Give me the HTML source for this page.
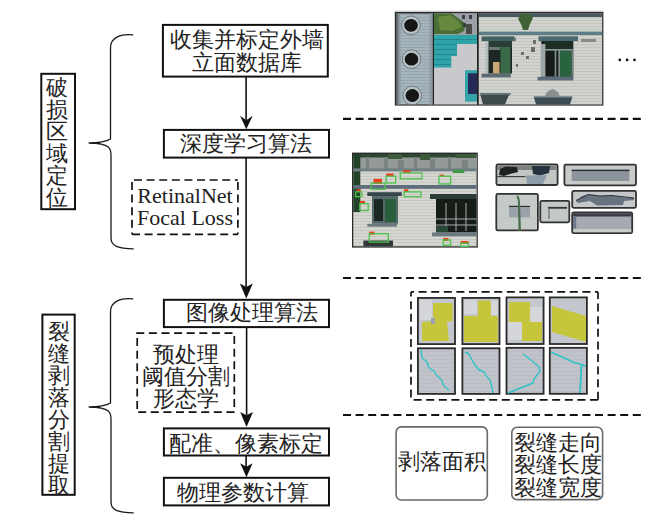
<!DOCTYPE html>
<html><head><meta charset="utf-8">
<style>
html,body{margin:0;padding:0;background:#fff;}
body{width:670px;height:521px;position:relative;overflow:hidden;font-family:"Liberation Serif",serif;color:#222;}
.t{position:absolute;white-space:nowrap;font-size:21.5px;line-height:21.5px;font-weight:300;}
.c{text-align:center;}
.ab{position:absolute;}
.ph{position:absolute;overflow:hidden;box-sizing:border-box;}
</style></head><body>

<svg class="ab" style="left:0;top:0" width="670" height="521" viewBox="0 0 670 521">
 <g fill="none" stroke="#111" stroke-width="2">
  <rect x="162.9" y="24.9" width="164.9" height="51.7"/>
  <rect x="163.9" y="129.9" width="165.1" height="27.7"/>
  <rect x="163.9" y="299.8" width="165.1" height="27.3"/>
  <rect x="163.9" y="428.4" width="165.1" height="27.1"/>
  <rect x="163.9" y="477.8" width="165.1" height="27.6"/>
  <rect x="41.3" y="73.8" width="33.7" height="135.4"/>
  <rect x="42.4" y="314.6" width="32.3" height="180.2"/>
 </g>
 <g fill="none" stroke="#111" stroke-width="1.6">
  <line x1="246.1" y1="77" x2="246.1" y2="120"/>
  <line x1="246.1" y1="158" x2="246.1" y2="287"/>
  <line x1="246.6" y1="327.5" x2="246.6" y2="415"/>
  <line x1="246.1" y1="456" x2="246.1" y2="467"/>
 </g>
 <g fill="#111">
  <path d="M246.3 129.2 L240.1 115.8 L246.3 120.2 L252.7 115.8 Z"/>
  <path d="M246.3 298.6 L239.9 283.4 L246.3 287 L252.8 283.4 Z"/>
  <path d="M246.5 426.9 L240.2 411.9 L246.5 415.3 L253 411.9 Z"/>
  <path d="M246.5 477.2 L240.2 463.3 L246.5 466.8 L252.6 463.3 Z"/>
 </g>
 <!-- braces -->
 <g fill="none" stroke="#1a1a1a" stroke-width="1.3">
  <path d="M133.2 34.9 C122 33.4 110.5 36.8 110.5 48 L110.5 139 C106 141.6 97 142.8 88.7 143 C98 143.2 104.5 144 108.3 147 C110.6 149 111 151 111 155 L111 238 C111 246 118 248.8 133.7 248.8"/>
  <path d="M133.2 298.9 C122 297.4 110.5 300.8 110.5 312 L110.5 403 C106 405.6 97 406.8 88.7 407 C98 407.2 104.5 408 108.3 411 C110.6 413 111 415 111 419 L111 502 C111 510 118 512.8 133.7 512.8"/>
 </g>
 <g fill="#1a1a1a"><path d="M88.5 143 C93 142.4 97 142.1 100 141.9 L100 144.1 C97 143.9 93 143.6 88.5 143Z"/><path d="M88.5 407 C93 406.4 97 406.1 100 405.9 L100 408.1 C97 407.9 93 407.6 88.5 407Z"/></g>
 <!-- dashed boxes -->
 <g fill="none" stroke="#111" stroke-width="1.7" stroke-dasharray="8 4.6">
  <line x1="132" y1="180" x2="237.9" y2="180" stroke-dashoffset="-2"/>
  <line x1="132" y1="180" x2="132" y2="234.3" stroke-dashoffset="-2"/>
  <line x1="132" y1="234.3" x2="237.9" y2="234.3" stroke-dashoffset="0"/>
  <line x1="237.9" y1="180" x2="237.9" y2="234.3" stroke-dashoffset="-2"/>
  <line x1="136.3" y1="333.1" x2="234.3" y2="333.1" stroke-dashoffset="0"/>
  <line x1="137.2" y1="333.1" x2="137.2" y2="412.2" stroke-dashoffset="-5"/>
  <line x1="137.2" y1="412.2" x2="234.3" y2="412.2" stroke-dashoffset="-1"/>
  <line x1="234.3" y1="333.1" x2="234.3" y2="412.2" stroke-dashoffset="-3"/>
  <line x1="411" y1="291.9" x2="598" y2="291.9" stroke-dashoffset="5"/>
  <line x1="411" y1="291.9" x2="411" y2="399.8" stroke-dashoffset="3.3"/>
  <line x1="598" y1="399.8" x2="411" y2="399.8" stroke-dashoffset="0"/>
  <line x1="598" y1="399.8" x2="598" y2="291.9" stroke-dashoffset="0"/>
 </g>
 <g fill="none" stroke="#111" stroke-width="2.2" stroke-dasharray="8 4.6">
  <line x1="343" y1="118.8" x2="642" y2="118.8"/>
  <line x1="343" y1="278" x2="642" y2="278"/>
  <line x1="343" y1="415" x2="642" y2="415"/>
 </g>
 <g fill="none" stroke="#6a6a6a" stroke-width="1.6">
  <rect x="396.1" y="426.9" width="91.2" height="73.1" rx="5.2"/>
  <rect x="511.8" y="427.3" width="90.8" height="72.3" rx="5.2"/>
 </g>
 <g fill="#111"><circle cx="619.8" cy="59.9" r="1.35"/><circle cx="627.1" cy="59.9" r="1.35"/><circle cx="634.5" cy="59.9" r="1.35"/></g>
</svg>


<!-- photos -->
<svg class="ab" style="left:0;top:0" width="670" height="521" viewBox="0 0 670 521">
 <defs>
  <filter id="soft" x="-2%" y="-2%" width="104%" height="104%"><feGaussianBlur stdDeviation="0.45"/></filter>
  <pattern id="brick" width="6" height="3" patternUnits="userSpaceOnUse"><rect width="6" height="3" fill="#d2d3cf"/><rect y="2.3" width="6" height="0.7" fill="#bdbfbc"/></pattern>
  <pattern id="brick2" width="6" height="3" patternUnits="userSpaceOnUse"><rect width="6" height="3" fill="#d6d6d0"/><rect y="2.3" width="6" height="0.7" fill="#c2c2bc"/></pattern>
  <pattern id="blu" width="5" height="3" patternUnits="userSpaceOnUse"><rect width="5" height="3" fill="#a6b5bb"/><rect y="2" width="5" height="1" fill="#97a6ad"/></pattern>
  <pattern id="tl" width="5" height="5" patternUnits="userSpaceOnUse"><rect width="5" height="5" fill="#2fa3a8"/><rect y="4.2" width="5" height="0.8" fill="#1f8088"/></pattern>
  <pattern id="gw" width="4" height="4" patternUnits="userSpaceOnUse"><rect width="4" height="4" fill="#cbcacd"/><path d="M0 4 L4 0" stroke="#bdbcc1" stroke-width="0.5"/></pattern>
  <pattern id="cg" width="6" height="4" patternUnits="userSpaceOnUse"><rect width="6" height="4" fill="#c0c3ca"/><rect y="3.4" width="6" height="0.6" fill="#b6b9c0"/></pattern>
 </defs>
 <g filter="url(#soft)">
 <!-- top strip -->
 <rect x="394.5" y="10.4" width="209" height="1" fill="#e4e4e4"/>
 <rect x="394.8" y="11.8" width="208.6" height="93.8" fill="#2b2b2b"/>
 <!-- panel 1 -->
 <rect x="396" y="13.5" width="37" height="91" fill="url(#blu)"/>
 <rect x="396" y="13.5" width="2.5" height="91" fill="#5d686d"/><rect x="398.5" y="13.5" width="2" height="91" fill="#8a979c"/>
 <rect x="429.5" y="13.5" width="3.5" height="91" fill="#8d9aa0"/>
 <g fill="#b9c4c8" stroke="#66717a" stroke-width="0.9">
  <circle cx="411" cy="25.3" r="9.3"/><circle cx="411.5" cy="59.2" r="9.3"/><circle cx="412.3" cy="95.5" r="9.3"/>
 </g>
 <g fill="#141414"><ellipse cx="411" cy="25.3" rx="6.8" ry="6.4"/><ellipse cx="411.5" cy="59.2" rx="6.8" ry="6.4"/><ellipse cx="412.3" cy="95.5" rx="6.8" ry="6.4"/></g>
 <!-- panel 2 -->
 <rect x="434" y="13.5" width="43" height="91" fill="url(#gw)"/>
 <rect x="434" y="13.5" width="43" height="22" fill="#9ba0a6"/>
 <path d="M434 13.5 L452 13.5 L458 18 L466 24 L464 31 L458 34 L434 34 Z" fill="#4a6e34"/>
 <path d="M438 17 L450 15 L458 21 L462 27 L452 31 L440 30 Z" fill="#66893f"/>
 <g fill="#3b3f44"><rect x="462" y="15" width="3" height="4"/><rect x="469" y="15" width="3" height="4"/><rect x="463" y="23" width="3" height="4"/></g>
 <rect x="466" y="24" width="6" height="10" fill="#4a4a44"/>
 <path d="M434 35 L477 35 L477 44 L457 44 L457 56 L451.3 56 L451.3 67.5 L434 67.5 Z" fill="url(#tl)"/>
 <rect x="465" y="70.2" width="12" height="31.5" fill="#30a4a8"/>
 <rect x="468" y="73.3" width="9" height="20.7" fill="#262a58"/>
 <!-- panel 3 -->
 <rect x="478.5" y="13.5" width="123.7" height="91" fill="url(#brick)"/>
 <rect x="478.5" y="13.5" width="123.7" height="3.5" fill="#4a5a5e"/>
 <path d="M521 14 L530 13.5 L533 18 L530 24 L528 30 L523 30 L521 24 L518 19Z" fill="#3f6334"/>
 <rect x="478.5" y="31.6" width="123.7" height="3.5" fill="#5e7d86"/>
 <rect x="481.6" y="36.4" width="33" height="4.8" fill="#42605f"/>
 <rect x="488" y="41" width="24" height="32.5" fill="#1f2622"/>
 <rect x="488" y="41" width="24" height="7" fill="#2c3c36"/>
 <rect x="500.5" y="47" width="10" height="26.5" fill="#3a6a4a"/>
 <rect x="493" y="62" width="6.5" height="11.5" fill="#c9a878"/>
 <rect x="485.5" y="41" width="3" height="32.5" fill="#b4bcbc"/>
 <rect x="489" y="47" width="11" height="3" fill="#6a7a78"/>
 <rect x="481.6" y="73.6" width="29.2" height="3.8" fill="#5c6c72"/>
 <path d="M479.8 93.5 L510.8 93.5 L508 97 L505 104.5 L483 104.5 L481 97Z" fill="#3c4c4c"/><rect x="479.8" y="93.2" width="31" height="1.6" fill="#63777c"/>
 <rect x="538.5" y="36.3" width="39.5" height="4.8" fill="#4a6a70"/>
 <rect x="541.3" y="41" width="32" height="35.8" fill="#181f1b"/>
 <rect x="544" y="41" width="29" height="8" fill="#1f2e28"/>
 <rect x="540.7" y="44" width="4.7" height="32.8" fill="#9ea6a6"/>
 <rect x="560" y="50.5" width="11.5" height="26.3" fill="#2b6440"/>
 <rect x="545" y="49" width="28" height="1.6" fill="#8a9a98"/>
 <rect x="554.7" y="50" width="1.6" height="26.8" fill="#7f908e"/>
 <rect x="558.4" y="50" width="1.6" height="26.8" fill="#7f908e"/>
 <rect x="571.5" y="49" width="1.6" height="27.8" fill="#6f807e"/>
 <rect x="537.5" y="76.8" width="35.8" height="3.7" fill="#5c6c7a"/>
 <path d="M533.8 97 L572.3 97 L570 104.5 L536 104.5Z" fill="#3c4c52"/><rect x="533.8" y="96.3" width="38.5" height="1.5" fill="#63777c"/>
 <path d="M544 97 L548 91 L553 89 L558 92 L560 97Z" fill="#8a8e8c"/>
 <rect x="581" y="39" width="15" height="3" fill="#8a8a8a"/>
 <g fill="#6a6e6c"><rect x="513" y="38" width="3" height="3"/><rect x="521" y="52" width="3" height="3"/><rect x="526" y="56" width="3" height="3"/><rect x="531" y="47" width="4" height="5"/><rect x="533" y="40" width="3" height="4"/><rect x="516" y="64" width="2" height="3"/></g>
 <rect x="477.3" y="13.5" width="1.2" height="91" fill="#222"/>
 <rect x="432.8" y="13.5" width="1.2" height="91" fill="#222"/>

 <!-- photo 2 -->
 <rect x="352" y="152.6" width="125.8" height="95" fill="#2a2a2a"/>
 <rect x="353.3" y="154" width="123.3" height="92.3" fill="url(#brick2)"/>
 <rect x="353.3" y="154" width="123.3" height="15.5" fill="#939a99"/>
 <rect x="353.3" y="154" width="123.3" height="3.5" fill="#2f4a32"/>
 <g fill="#7a8282"><rect x="366" y="157" width="3" height="12"/><rect x="384" y="157" width="4" height="12"/><rect x="398" y="160" width="6" height="9"/><rect x="414" y="157" width="3" height="12"/><rect x="430" y="159" width="5" height="10"/><rect x="448" y="157" width="3" height="12"/><rect x="462" y="160" width="6" height="9"/></g>
 <g fill="#3d5a3e"><rect x="388" y="154" width="14" height="5"/><rect x="420" y="154" width="10" height="6"/><rect x="456" y="154" width="20" height="4"/></g>
 <rect x="353.3" y="154" width="7" height="58" fill="#24422a"/>
 <rect x="353.3" y="168.4" width="123.3" height="3" fill="#6e7e84"/>
 <rect x="353.3" y="185" width="123.3" height="3.8" fill="#5e6e7c"/>
 <rect x="367.3" y="192.2" width="34.5" height="3.8" fill="#35454a"/>
 <rect x="372" y="196" width="26" height="27.8" fill="#55686a"/>
 <rect x="374" y="199" width="9" height="22" fill="#1e2622"/>
 <rect x="385" y="199" width="11" height="23" fill="#2b5e3e"/>
 <rect x="367.3" y="223.8" width="29.7" height="2.9" fill="#6a7a80"/>
 <rect x="363.4" y="240.5" width="29.6" height="5.8" fill="#303838"/>
 <rect x="430" y="194" width="46.6" height="5" fill="#2a3a38"/>
 <rect x="436" y="199" width="40.6" height="33.5" fill="#161b19"/>
 <g stroke="#b8c0c0" stroke-width="0.9"><line x1="436" y1="219" x2="476.6" y2="219"/><line x1="436" y1="225" x2="476.6" y2="225"/><line x1="446" y1="203" x2="446" y2="231"/><line x1="456" y1="203" x2="456" y2="231"/><line x1="466" y1="203" x2="466" y2="231"/></g>
 <rect x="436" y="226" width="12" height="6" fill="#2a4a38"/>
 <rect x="432" y="232.5" width="44.6" height="3.8" fill="#6a7a80"/>
 <rect x="452.7" y="169.8" width="11.6" height="3.2" fill="#3f9a45"/>
 <g fill="#e8401c">
  <rect x="386.2" y="173.5" width="7.4" height="2.7"/><rect x="403" y="170.3" width="7.5" height="2.6"/><rect x="439.6" y="174.6" width="4.6" height="2.1"/>
  <rect x="373.5" y="178.8" width="8.5" height="5.2"/><rect x="356.6" y="189.3" width="4.2" height="2.6"/><rect x="404" y="189.3" width="4.3" height="2.6"/>
  <rect x="359.8" y="201" width="5.2" height="2.7"/><rect x="369.3" y="231.6" width="5.3" height="3.1"/><rect x="443.2" y="238" width="5.3" height="3"/><rect x="460.7" y="241" width="7.8" height="3"/>
 </g>
 <g fill="none" stroke="#4cc24c" stroke-width="1.3">
  <rect x="386.2" y="176.2" width="9.5" height="6.8"/><rect x="400.3" y="172.9" width="21.7" height="5.9"/><rect x="439" y="176.2" width="11.6" height="7.8"/>
  <rect x="371.4" y="183" width="13.7" height="6.3"/><rect x="355.6" y="191.9" width="6.3" height="4.8"/><rect x="404" y="191.9" width="17" height="4.8"/>
  <rect x="359.8" y="203.7" width="8.4" height="6.8"/><rect x="369.3" y="233.7" width="19" height="8.4"/><rect x="443.2" y="240" width="7.4" height="5.3"/><rect x="460.7" y="243.2" width="7.8" height="3.2"/>
 </g>

 <!-- small crops -->
 <g stroke="#333" stroke-width="1.8">
  <rect x="496.4" y="164.4" width="61.2" height="20.6" rx="1.5" fill="#c3c7c3"/>
  <rect x="564.4" y="164.6" width="71.6" height="20.7" rx="1.5" fill="#c6cac8"/>
  <rect x="496.3" y="193.8" width="41.6" height="36.6" rx="1.5" fill="#c5ccc8"/>
  <rect x="540.3" y="200.8" width="29" height="21.5" rx="1.5" fill="#c3c9c7"/>
  <rect x="572.2" y="190.9" width="63.8" height="16.9" rx="1.5" fill="#c4c8c8"/>
  <rect x="572.2" y="212.5" width="60" height="20.7" rx="1.5" fill="#a4aab0"/>
 </g>
 <rect x="497.4" y="165.4" width="59.2" height="4.6" fill="#7d837b"/>
 <path d="M500 169 L506 166.5 L517 167 L518 172 L510 174 L504 176 L499 175Z" fill="#1f2220"/>
 <path d="M532 166 L550 166 L549 173 L540 175.5 L533 174Z" fill="#27313c"/>
 <path d="M526 175.5 L547 175 L543 184 L527 184Z" fill="#8d9bab"/>
 <rect x="497.4" y="176" width="28" height="1.2" fill="#3c3c3c"/>
 <rect x="571.7" y="169.7" width="57.7" height="11.3" fill="#8c949c"/>
 <rect x="571.7" y="169.7" width="57.7" height="1.4" fill="#2a2e30"/>
 <path d="M576 201 L582 196 L588 194.5 L600 196 L612 195.5 L625 197.5 L634 198 L634 200 L624 201 L623 205 L597 205.5 L590 201 L578 203Z" fill="#687280"/>
 <path d="M576 200.5 L588 194.5 L600 196 L612 195.5 L634 198" fill="none" stroke="#2a2e34" stroke-width="1"/>
 <rect x="573.2" y="213.5" width="58" height="3" fill="#3a3e44"/>
 <rect x="573.2" y="229" width="58" height="3.2" fill="#c8ccca"/>
 <rect x="573.2" y="216.5" width="3" height="12" fill="#6a7a88"/>
 <rect x="509" y="205.7" width="21" height="11.7" fill="#9ca2aa"/>
 <rect x="509" y="205.7" width="21" height="1.3" fill="#2c322c"/>
 <g fill="#bcc2be"><rect x="497.3" y="204.8" width="40" height="0.8"/><rect x="497.3" y="217.5" width="40" height="0.8"/></g>
 <path d="M516.5 196 C518 194 520 197 520 203 L521 231 L518.5 231 L518 203 C518 199 517 198 516.5 196Z" fill="#4a6e4e"/>
 <rect x="548" y="206.9" width="19" height="1.8" fill="#33383a"/>
 <rect x="548" y="209" width="2" height="10" fill="#8a9092"/>
 <!-- thumbnails -->
 <g stroke="#2a2a2a" stroke-width="1.8">
  <rect x="417.9" y="297.9" width="37.1" height="46.2" fill="#c3c6cc"/>
  <rect x="462.4" y="297.9" width="37.1" height="46.2" fill="#c3c6cc"/>
  <rect x="506.5" y="297.4" width="37.1" height="46.6" fill="#c3c6cc"/>
  <rect x="549.8" y="297.4" width="37.1" height="46.6" fill="#c3c6cc"/>
 </g>
 <g fill="#c6c63e">
  <path d="M433 303 L452.5 303 L452.5 321 L447 322 L449 341 L422 341 L422 322 L433 321Z"/>
  <path d="M477.9 300.5 L490.9 300.5 L490.9 316 L497.8 316 L497.8 342 L464 342 L464 316 L477.9 316Z"/>
  <path d="M509 302 L530 302 L530 307 L529.9 322 L542 322 L542 341 L522 341 L522 322 L509 322Z"/>
  <path d="M552 306 L586 316 L586 342 L552 332Z"/>
 </g>
 <g fill="#d4d6da"><rect x="530" y="307" width="12" height="15"/><rect x="508" y="322" width="14" height="18"/><rect x="420" y="300" width="12" height="20"/><rect x="464" y="300" width="13" height="14"/><rect x="491" y="301" width="7" height="14"/></g>
 <g fill="#9aa2b0"><rect x="431" y="318" width="4" height="6"/></g>
 <g stroke="#2a2a2a" stroke-width="1.8" fill="url(#cg)">
  <rect x="417.9" y="348.3" width="37.1" height="45.6"/>
  <rect x="462.4" y="348.3" width="37.1" height="45.6"/>
  <rect x="506.5" y="347.8" width="37.1" height="46"/>
  <rect x="549.8" y="347.8" width="37.1" height="46"/>
 </g>
 <g fill="none" stroke="#2fc3c8" stroke-width="1.4" stroke-linejoin="round">
  <path d="M421 350 L422 358 L427 362 L429 368 L434 371 L437 376 L441 379 L444 386 L449 390"/>
  <path d="M465 352 L469 354 L473 362 L478 369 L484 372 L487 377 L490 380 L492 387 L493 393"/>
  <path d="M523 354 L531 360 L539 367 L540 371 L534 379 L533 383 L523 387 L508 393"/>
  <path d="M551 352 L562 357 L573 362 L586 366 M581.5 365 L580 393" stroke-width="1.8"/>
 </g>
 </g>
</svg>

<!-- text -->
<div class="t c" style="left:164px;top:29px;width:166px;line-height:22.8px;">收集并标定外墙<br>立面数据库</div>
<div class="t" style="left:180px;top:133.5px;">深度学习算法</div>
<div class="t c" style="left:132px;top:185px;width:106px;font-size:22px;line-height:21.7px;font-weight:400;">RetinalNet<br>Focal Loss</div>
<div class="t" style="left:186px;top:302.5px;">图像处理算法</div>
<div class="t c" style="left:136px;top:343.5px;width:99px;line-height:22px;">预处理<br>阈值分割<br>形态学</div>
<div class="t" style="left:169px;top:433.5px;">配准、像素标定</div>
<div class="t" style="left:177px;top:482.5px;">物理参数计算</div>
<div class="t c" style="left:40.2px;top:78px;width:34px;line-height:21.9px;">破<br>损<br>区<br>域<br>定<br>位</div>
<div class="t c" style="left:42px;top:320.5px;width:33px;line-height:22.1px;">裂<br>缝<br>剥<br>落<br>分<br>割<br>提<br>取</div>
<div class="t" style="left:398px;top:452px;">剥落面积</div>
<div class="t" style="left:514px;top:432px;line-height:22.3px;">裂缝走向<br>裂缝长度<br>裂缝宽度</div>

</body></html>
